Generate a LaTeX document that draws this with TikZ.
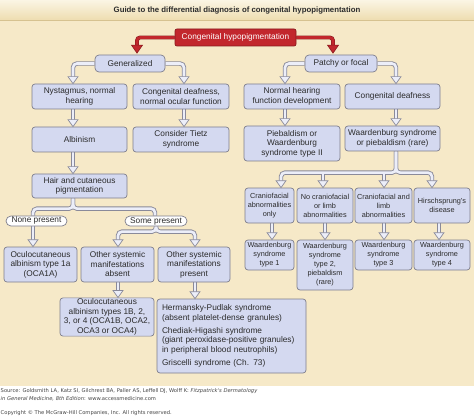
\documentclass[tikz,border=0pt]{standalone}
\usepackage{fontspec}
\setmainfont{Liberation Sans}
\newfontfamily\srcfont{DejaVu Sans}
\usetikzlibrary{calc}
\pgfdeclarelayer{bg}\pgfdeclarelayer{cout}\pgfdeclarelayer{cin}
\pgfsetlayers{bg,cout,cin,main}
\definecolor{beige}{HTML}{F6E9C8}
\definecolor{titletop}{HTML}{FBF5E4}
\definecolor{titlebot}{HTML}{EEDDB0}
\definecolor{titleline}{HTML}{D6C290}
\definecolor{boxfill}{HTML}{D4D9F0}
\definecolor{boxline}{HTML}{7E7E8C}
\definecolor{hollowline}{HTML}{8A8A9A}
\definecolor{hollowin}{HTML}{ECEEF9}
\definecolor{redfill}{HTML}{C2272D}
\definecolor{redline}{HTML}{8A1A1E}
\definecolor{txt}{HTML}{2B2B2B}
\definecolor{srctxt}{HTML}{444444}
\tikzset{
 box/.style={draw=boxline, fill=boxfill, line width=0.7pt, rounded corners=3pt, align=center, text=txt, inner sep=1pt, font=\fontsize{8.3}{9.5}\selectfont},
 sbox/.style={box, font=\fontsize{7.3}{9}\selectfont},
 pill/.style={draw=boxline, fill=white, line width=0.7pt, rounded corners=5pt, inner sep=1pt, text=txt, font=\fontsize{8.3}{9.5}\selectfont, minimum height=10pt},
 hout/.style={draw=hollowline, line width=4.4pt, rounded corners=4pt},
 hin/.style={draw=hollowin, line width=2.6pt, rounded corners=4pt},
 hhead/.pic={\draw[draw=hollowline, fill=hollowin, line width=0.7pt, line join=miter] (-5,-7) -- (0,0) -- (5,-7) -- cycle;},
 rhead/.pic={\draw[draw=redline, fill=redfill, line width=0.6pt, line join=miter] (-5.5,-8) -- (0,0) -- (5.5,-8) -- cycle;},
 rarrow/.style={draw=redline, double=redfill, double distance=2.6pt, line width=0.6pt, rounded corners=3pt},
 srcstyle/.style={anchor=west, font=\srcfont\fontsize{5.2}{6}\selectfont, text=srctxt, inner sep=0pt},
}
\newcommand\hpath[2]{%
 \begin{pgfonlayer}{cout}\draw[hout,shorten >=4.5pt] #1 #2;\end{pgfonlayer}%
 \begin{pgfonlayer}{cin}\draw[hin,shorten >=4.5pt] #1 #2;\end{pgfonlayer}%
 \pic at #2 {hhead};}
\newcommand\hlink[1]{%
 \begin{pgfonlayer}{cout}\draw[hout] #1;\end{pgfonlayer}%
 \begin{pgfonlayer}{cin}\draw[hin] #1;\end{pgfonlayer}}
\begin{document}
\begin{tikzpicture}[x=1pt,y=-1pt]
\useasboundingbox (0,0) rectangle (474,417);
\begin{pgfonlayer}{bg}
\fill[white] (0,0) rectangle (474,417);
\fill[beige] (0,20) rectangle (474,386);
\shade[top color=titletop, bottom color=titlebot] (0,0) rectangle (474,20);
\draw[titleline, line width=0.6pt] (0,20) -- (474,20);
\end{pgfonlayer}

\node[font=\bfseries\fontsize{7.8}{9}\selectfont, text=txt, inner sep=0pt] (title) at (237,10.5) {Guide to the differential diagnosis of congenital hypopigmentation};

% nodes
\node[box, fill=redfill, draw=redline, text=white, minimum width=121pt, minimum height=17pt, rounded corners=2pt] (root) at (235.5,37.5) {Congenital hypopigmentation};
\node[box, minimum width=70pt, minimum height=17pt, rounded corners=4pt] (gen) at (130,63.5) {Generalized};
\node[box, minimum width=72pt, minimum height=17pt, rounded corners=4pt] (pat) at (341,63.5) {Patchy or focal};

\node[box, minimum width=95pt, minimum height=25pt] (nys) at (79.5,96.5) {Nystagmus, normal\\hearing};
\node[box, minimum width=96pt, minimum height=25pt] (cdn) at (181,96.5) {Congenital deafness,\\normal ocular function};
\node[box, minimum width=96pt, minimum height=25pt] (nhf) at (292,96.5) {Normal hearing\\function development};
\node[box, minimum width=95pt, minimum height=25pt] (cd) at (392.5,96.5) {Congenital deafness};

\node[box, minimum width=95pt, minimum height=25pt] (alb) at (79.5,139.5) {Albinism};
\node[box, minimum width=96pt, minimum height=25pt] (tietz) at (181,139.5) {Consider Tietz\\syndrome};
\node[box, minimum width=96pt, minimum height=35pt] (pieb) at (292,143.5) {Piebaldism or\\Waardenburg\\syndrome type II};
\node[box, minimum width=95pt, minimum height=25pt] (ws) at (392.5,138.5) {Waardenburg syndrome\\or piebaldism (rare)};

\node[box, minimum width=95pt, minimum height=24pt] (hair) at (79.5,186) {Hair and cutaneous\\pigmentation};
\node[pill, minimum width=61pt] (none) at (36.5,221) {None present};
\node[pill, minimum width=62pt] (some) at (156,221) {Some present};

\node[box, minimum width=73pt, minimum height=35pt] (oca1a) at (40.5,264.5) {Oculocutaneous\\albinism type 1a\\(OCA1A)};
\node[box, minimum width=73pt, minimum height=35pt] (absent) at (117.5,264.5) {Other systemic\\manifestations\\absent};
\node[box, minimum width=72pt, minimum height=35pt] (present) at (194,264.5) {Other systemic\\manifestations\\present};

\node[box, minimum width=94pt, minimum height=36pt] (oca) at (107,317) {Oculocutaneous\\albinism types 1B, 2,\\3, or 4 (OCA1B, OCA2,\\OCA3 or OCA4)};
\node[box, align=left, text width=139pt, inner xsep=5pt, minimum height=74pt] (hps) at (231.5,336) {Hermansky-Pudlak syndrome\\(absent platelet-dense granules)\\[3.5pt]Chediak-Higashi syndrome\\(giant peroxidase-positive granules)\\in peripheral blood neutrophils)\\[3.5pt]Griscelli syndrome (Ch. 73)};

\node[sbox, minimum width=49pt, minimum height=35pt] (cfo) at (269.5,205.5) {Craniofacial\\abnormalities\\only};
\node[sbox, minimum width=56pt, minimum height=35pt] (ncf) at (325,205.5) {No craniofacial\\or limb\\abnormalities};
\node[sbox, minimum width=57pt, minimum height=35pt] (cfl) at (383.5,205.5) {Craniofacial and\\limb\\abnormalities};
\node[sbox, minimum width=56pt, minimum height=35pt] (hd) at (442,205.5) {Hirschsprung's\\disease};

\node[sbox, minimum width=49pt, minimum height=30pt] (ws1) at (269.5,255) {Waardenburg\\syndrome\\type 1};
\node[sbox, minimum width=56pt, minimum height=50pt] (ws2) at (325,265) {Waardenburg\\syndrome\\type 2,\\piebaldism\\(rare)};
\node[sbox, minimum width=57pt, minimum height=30pt] (ws3) at (383.5,255) {Waardenburg\\syndrome\\type 3};
\node[sbox, minimum width=56pt, minimum height=30pt] (ws4) at (442,255) {Waardenburg\\syndrome\\type 4};

% red arrows
\begin{pgfonlayer}{cin}
\draw[rarrow, shorten >=7pt] (root.west) -| ([xshift=7pt]gen.north);
\draw[rarrow, shorten >=7pt] (root.east) -| ([xshift=-8pt]pat.north);
\end{pgfonlayer}
\pic at ([xshift=7pt,yshift=1.5pt]gen.north) {rhead};
\pic at ([xshift=-8pt,yshift=1.5pt]pat.north) {rhead};

% hollow connectors
\hpath{(gen.west) -|}{([xshift=-6.5pt]nys.north)}
\hpath{(gen.east) -|}{([xshift=3pt]cdn.north)}
\hpath{(pat.west) -|}{([xshift=-7pt]nhf.north)}
\hpath{(pat.east) -|}{([xshift=3.5pt]cd.north)}
\hpath{([xshift=-6.5pt]nys.south) --}{([xshift=-6.5pt]alb.north)}
\hpath{([xshift=3pt]cdn.south) --}{([xshift=3pt]tietz.north)}
\hpath{([xshift=-7pt]nhf.south) --}{([xshift=-7pt]pieb.north)}
\hpath{([xshift=3.5pt]cd.south) --}{([xshift=3.5pt]ws.north)}
\hpath{([xshift=-6.5pt]alb.south) --}{([xshift=-6.5pt]hair.north)}
\hlink{([xshift=-6.5pt]hair.south) |- ($([xshift=-3.5pt]none.north)+(0,-7)$) -- ([xshift=-3.5pt]none.north)}
\hlink{([xshift=-6.5pt]hair.south) |- ($([xshift=-1pt]some.north)+(0,-7)$) -- ([xshift=-1pt]some.north)}
\hpath{([xshift=-3.5pt]none.south) --}{([xshift=-7.5pt]oca1a.north)}
\hpath{(some.south) |- ($([xshift=0.5pt]absent.north)+(0,-15)$) --}{([xshift=0.5pt]absent.north)}
\hpath{(some.south) |- ($([xshift=1pt]present.north)+(0,-15)$) --}{([xshift=1pt]present.north)}
\hpath{([xshift=0.5pt]absent.south) --}{([xshift=11pt]oca.north)}
\hpath{([xshift=1pt]present.south) --}{([xshift=-36.5pt]hps.north)}

\hpath{([xshift=3.5pt]ws.south) |- ($([xshift=11.5pt]cfo.north)+(0,-15)$) --}{([xshift=11.5pt]cfo.north)}
\hpath{([xshift=3.5pt]ws.south) |- ($([xshift=-10pt]hd.north)+(0,-15)$) --}{([xshift=-10pt]hd.north)}
\hpath{($([xshift=-2pt]ncf.north)+(0,-15)$) --}{([xshift=-2pt]ncf.north)}
\hpath{($([xshift=0.5pt]cfl.north)+(0,-15)$) --}{([xshift=0.5pt]cfl.north)}
\hpath{([xshift=2.5pt]cfo.south) --}{([xshift=2.5pt]ws1.north)}
\hpath{(ncf.south) --}{(ws2.north)}
\hpath{([xshift=0.5pt]cfl.south) --}{([xshift=0.5pt]ws3.north)}
\hpath{([xshift=-3pt]hd.south) --}{([xshift=-3pt]ws4.north)}

% source
\node[srcstyle] (src1) at (0.5,391.5) {Source: Goldsmith LA, Katz SI, Gilchrest BA, Paller AS, Leffell DJ, Wolff K: \textit{Fitzpatrick's Dermatology}};
\node[srcstyle] (src2) at (0.5,398.5) {\textit{in General Medicine, 8th Edition}: www.accessmedicine.com};
\node[srcstyle] (copy) at (0.5,413) {Copyright © The McGraw-Hill Companies, Inc. All rights reserved.};
\end{tikzpicture}
\end{document}
